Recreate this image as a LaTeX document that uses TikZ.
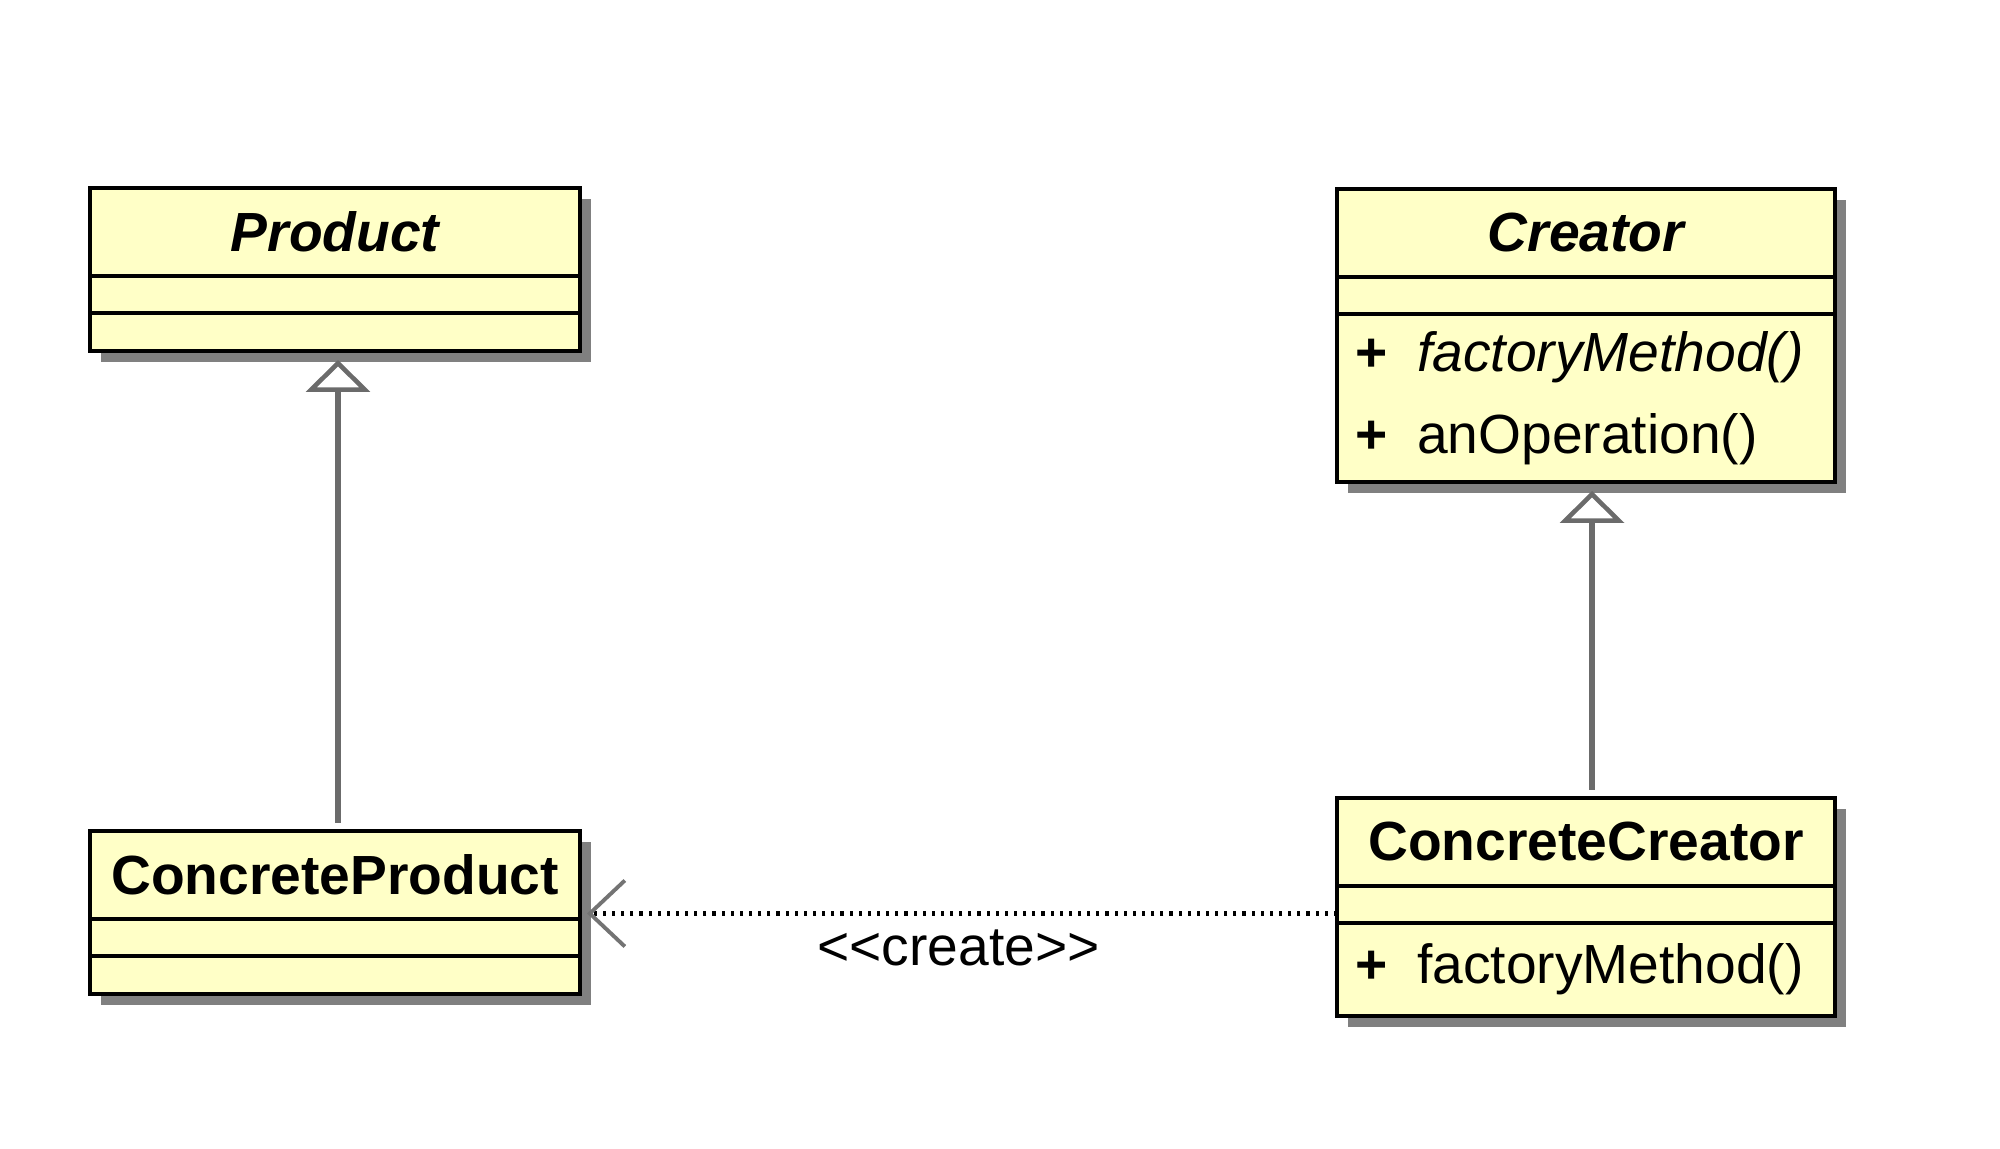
\documentclass[tikz,border=0pt]{standalone}
\usepackage{fontspec}
\setmainfont{Liberation Sans}
\usepackage{tikz}
\usetikzlibrary{arrows.meta,shadows}
\definecolor{umlfill}{RGB}{255,255,199}
\tikzset{
	cls/.style={rectangle,draw=black,line width=1.1pt,fill=umlfill,inner sep=0pt,outer sep=0pt,font=\fontsize{15.7}{19}\selectfont,drop shadow={shadow xshift=0.11cm,shadow yshift=-0.11cm,fill=black!50,opacity=1}},
	hd/.style={cls,anchor=north west,minimum height=0.88cm,font=\fontsize{15.7}{19}\selectfont\bfseries},
	cmp/.style={cls,anchor=north,minimum height=0.37cm},
	ops/.style={cls,anchor=north,align=left,inner xsep=0.18cm,font=\fontsize{15.7}{23.2}\selectfont},
	gen/.style={draw=black!58,line width=1.5pt,-{Triangle[open,width=0.64cm,length=0.32cm,line width=1.3pt]},shorten >=0.09cm,shorten <=0.08cm},
	dep/.style={draw=black,line width=1.25pt,dash pattern=on 0.9pt off 1.7pt,-{Straight Barb[length=0.35cm,width=0.66cm,black!55,line width=1.1pt]},shorten >=0.07cm}
}

\begin{document}
\begin{tikzpicture}
		\useasboundingbox (0,0) rectangle (20,11.49);
		
		\node[hd,minimum width=4.9cm] (prod) at (0.90,9.61) {\itshape Product};
		\node[cmp,minimum width=4.9cm] (prodattr) at (prod.south) {};
		\node[cmp,minimum width=4.9cm,minimum height=0.38cm] (prodops) at (prodattr.south) {};
		
		\node[hd,minimum width=4.9cm] (cprod) at (0.90,3.18) {ConcreteProduct};
		\node[cmp,minimum width=4.9cm] (cprodattr) at (cprod.south) {};
		\node[cmp,minimum width=4.9cm,minimum height=0.38cm] (cprodops) at (cprodattr.south) {};
		
		\node[hd,minimum width=4.98cm] (crt) at (13.37,9.60) {\itshape Creator};
		\node[cmp,minimum width=4.98cm] (crtattr) at (crt.south) {};
		\node[ops,text width=4.62cm,minimum height=1.68cm] (crtops) at (crtattr.south) {\textbf{+}\hspace{0.3cm}\textit{factoryMethod()}\\\textbf{+}\hspace{0.3cm}anOperation()};
		
		\node[hd,minimum width=4.98cm] (ccrt) at (13.37,3.51) {ConcreteCreator};
		\node[cmp,minimum width=4.98cm] (ccrtattr) at (ccrt.south) {};
		\node[ops,text width=4.62cm,minimum height=0.93cm] (ccrtops) at (ccrtattr.south) {\textbf{+}\hspace{0.3cm}factoryMethod()};
		
		\draw[gen] ([xshift=0.03cm]cprod.north) -- ([xshift=0.03cm]prodops.south);
		\draw[gen] ([xshift=0.06cm]ccrt.north) -- ([xshift=0.06cm]crtops.south);
		
		\coordinate (dp) at ([yshift=-0.09cm]ccrtattr.west);
		\draw[dep] (dp) -- (dp -| cprod.east) node[midway,below=0.02cm,font=\fontsize{15.7}{19}\selectfont] (lblcreate) {<\kern0pt<create>\kern0pt>};
		
\end{tikzpicture}
\end{document}
